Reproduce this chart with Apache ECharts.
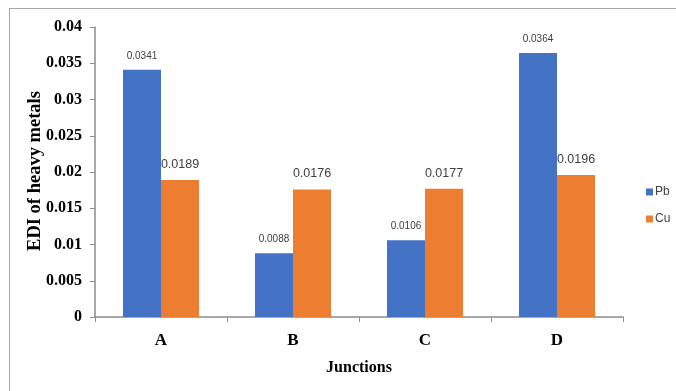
<!DOCTYPE html>
<html>
<head>
<meta charset="utf-8">
<script src="https://cdn.jsdelivr.net/npm/echarts@6/dist/echarts.min.js"></script>
<style>
  html, body { margin: 0; padding: 0; background: #fff; }
  #wrap { position: relative; width: 676px; height: 391px; overflow: hidden; }
  #frame { position: absolute; left: 9px; top: 8px; width: 700px; height: 400px;
           border-top: 1px solid #a6a6a6; border-left: 1px solid #a6a6a6; }
  #chart { position: absolute; left: 0; top: 0; width: 676px; height: 391px; }
</style>
</head>
<body>
<div id="wrap">
  <div id="frame"></div>
  <div id="chart"></div>
</div>
<script>
// Estimated daily intake per junction
const junctions = ['A', 'B', 'C', 'D'];
const pbValues = [0.0341, 0.0088, 0.0106, 0.0364];
const cuValues = [0.0189, 0.0176, 0.0177, 0.0196];
const yTicks = ['0', '0.005', '0.01', '0.015', '0.02', '0.025', '0.03', '0.035', '0.04'];
const yTitle = 'EDI of heavy metals';

const serif = '"Liberation Serif", "Times New Roman", serif';
const sans = '"Liberation Sans", Arial, sans-serif';
const axisGray = '#8c8c8c';

const chart = echarts.init(document.getElementById('chart'), null, { renderer: 'canvas' });
chart.setOption({
  animation: false,
  backgroundColor: 'transparent',
  grid: { left: 95, right: 53, top: 27, bottom: 74 },
  // vertical title for the value axis, placed beside the tick labels
  graphic: [{
    type: 'text',
    x: 35,
    y: 171,
    rotation: Math.PI / 2,
    style: {
      text: yTitle,
      fontFamily: serif,
      fontSize: 18.5,
      fontWeight: 'bold',
      fill: '#000',
      align: 'center',
      verticalAlign: 'middle'
    }
  }],
  legend: {
    orient: 'vertical',
    left: 641,
    top: 181,
    icon: 'rect',
    itemWidth: 7,
    itemHeight: 7,
    itemGap: 15,
    textStyle: { fontFamily: sans, fontSize: 12, color: '#404040', padding: [0, 0, 0, -3] },
    data: ['Pb', 'Cu']
  },
  xAxis: {
    type: 'category',
    data: junctions,
    name: 'Junctions',
    nameLocation: 'middle',
    nameGap: 43,
    nameTextStyle: { fontFamily: serif, fontSize: 16, fontWeight: 'bold', color: '#000' },
    axisLine: { lineStyle: { color: axisGray, width: 1.5 } },
    axisTick: { show: true, length: 5, lineStyle: { color: axisGray } },
    axisLabel: { margin: 15, fontFamily: serif, fontSize: 17, fontWeight: 'bold', color: '#000' }
  },
  yAxis: {
    type: 'value',
    min: 0,
    max: 0.04,
    interval: 0.005,
    splitLine: { show: false },
    axisLine: { show: true, lineStyle: { color: axisGray, width: 1.5 } },
    axisTick: { show: true, length: 5, lineStyle: { color: axisGray } },
    axisLabel: {
      margin: 13,
      fontFamily: serif,
      fontSize: 16,
      fontWeight: 'bold',
      color: '#000',
      formatter: function (v) {
        const idx = Math.round(v / 0.005);
        return yTicks[idx] !== undefined ? yTicks[idx] : String(v);
      }
    }
  },
  series: [
    {
      name: 'Pb',
      type: 'bar',
      data: pbValues,
      barWidth: 38,
      barGap: '0%',
      itemStyle: { color: '#4472c4' },
      label: {
        show: true,
        position: 'top',
        distance: 9,
        fontFamily: sans,
        fontSize: 10,
        color: '#404040',
        formatter: function (p) { return p.value.toFixed(4); }
      }
    },
    {
      name: 'Cu',
      type: 'bar',
      data: cuValues,
      barWidth: 38,
      barGap: '0%',
      itemStyle: { color: '#ed7d31' },
      label: {
        show: true,
        position: 'top',
        distance: 9,
        fontFamily: sans,
        fontSize: 12.5,
        color: '#404040',
        formatter: function (p) { return p.value.toFixed(4); }
      }
    }
  ]
});
</script>
</body>
</html>
